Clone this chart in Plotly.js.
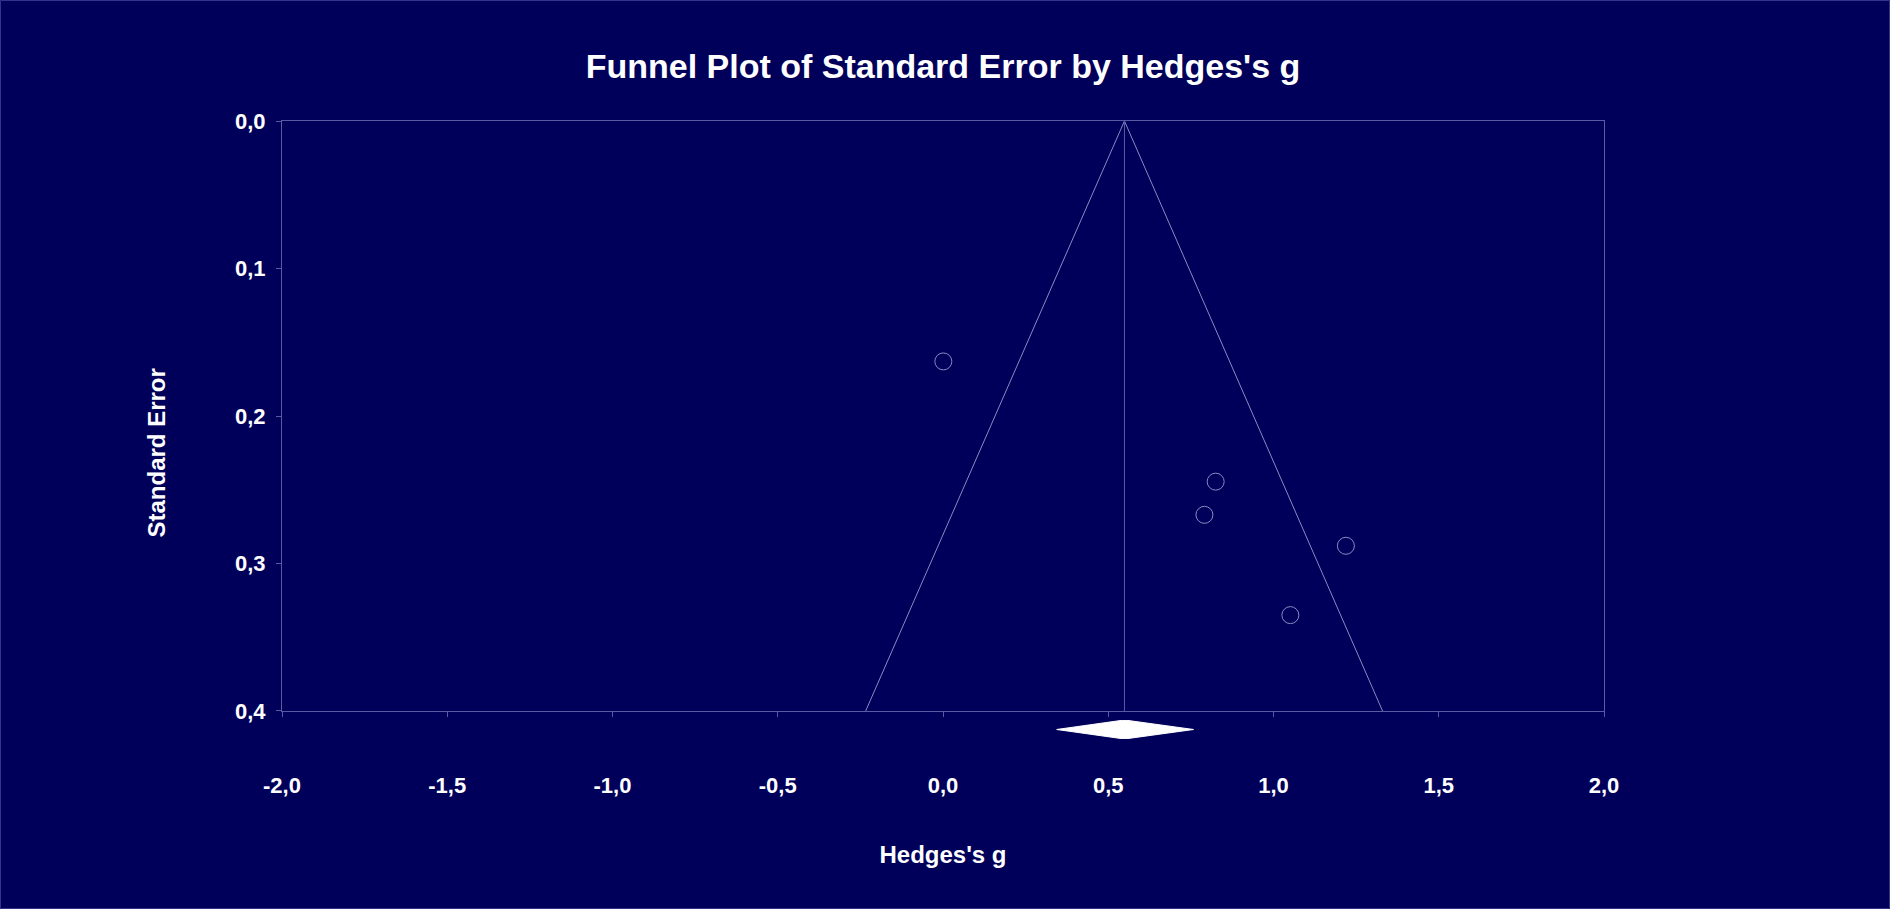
<!DOCTYPE html>
<html>
<head>
<meta charset="utf-8">
<script src="https://cdn.plot.ly/plotly-3.0.1.min.js"></script>
<style>
  html, body { margin: 0; padding: 0; background: #00005a; }
  #chart { width: 1890px; height: 909px; }
</style>
</head>
<body>
<div id="chart"></div>
<script>
// Studies: Hedges's g and standard error
const studyG = [0.001, 0.825, 0.791, 1.219, 1.051];
const studySE = [0.163, 0.2445, 0.267, 0.288, 0.335];

// Summary effect and its confidence interval
const meanG = 0.549;
const ciLow = 0.344;
const ciHigh = 0.758;

// Funnel limits (left bottom, apex, right bottom)
const funnelX = [-0.234, meanG, 1.330];
const funnelY = [0.4, 0.0, 0.4];

const xTicks = [-2.0, -1.5, -1.0, -0.5, 0.0, 0.5, 1.0, 1.5, 2.0];
const yTicks = [0.0, 0.1, 0.2, 0.3, 0.4];

const lineColor = '#5a5aa4';
const funnelColor = '#8a8ac4';
const white = '#ffffff';
const fontFamily = '"Liberation Sans", Arial, sans-serif';

// Comma decimals with a plain hyphen for negatives
const fmt = v => v.toFixed(1).replace('.', ',');

function buildChart() {
    // Funnel sides
    const funnel = {
        x: funnelX,
        y: funnelY,
        type: 'scatter',
        mode: 'lines',
        line: { color: funnelColor, width: 1 },
        hoverinfo: 'skip'
    };

    // Vertical line at the summary effect
    const meanLine = {
        x: [meanG, meanG],
        y: [0, 0.4],
        type: 'scatter',
        mode: 'lines',
        line: { color: lineColor, width: 1 },
        hoverinfo: 'skip'
    };

    const studies = {
        x: studyG,
        y: studySE,
        type: 'scatter',
        mode: 'markers',
        marker: {
            symbol: 'circle-open',
            size: 17,
            color: funnelColor,
            line: { width: 1, color: funnelColor }
        }
    };

    // Summary diamond drawn on a thin strip under the plot
    const diamond = {
        x: [ciLow, meanG, ciHigh, meanG, ciLow],
        y: [0, 1, 0, -1, 0],
        yaxis: 'y2',
        type: 'scatter',
        mode: 'lines',
        fill: 'toself',
        fillcolor: white,
        line: { color: white, width: 1 },
        hoverinfo: 'skip'
    };

    const layout = {
        width: 1890,
        height: 909,
        paper_bgcolor: '#00005a',
        plot_bgcolor: '#00005a',
        showlegend: false,
        margin: { l: 282, r: 286, t: 121, b: 164 },
        font: { family: fontFamily, color: white, size: 22, weight: 'bold' },
        title: {
            text: "Funnel Plot of Standard Error by Hedges's g",
            font: { family: fontFamily, size: 34, color: white, weight: 'bold' },
            x: 0.5,
            xref: 'paper',
            y: 1 - 66 / 909,
            yanchor: 'middle'
        },
        xaxis: {
            range: [-2, 2],
            tickvals: xTicks,
            ticktext: xTicks.map(fmt),
            ticks: 'outside',
            ticklen: 5,
            tickcolor: lineColor,
            ticklabelstandoff: 50,
            showline: true,
            linecolor: lineColor,
            linewidth: 1,
            mirror: true,
            showgrid: false,
            zeroline: false,
            anchor: 'y',
            automargin: true,
            title: {
                text: "Hedges's g",
                font: { size: 24, weight: 'bold' },
                standoff: 48
            }
        },
        yaxis: {
            domain: [0.0545, 1],
            range: [0.4, 0],
            tickvals: yTicks,
            ticktext: yTicks.map(fmt),
            ticks: 'outside',
            ticklen: 5,
            tickcolor: lineColor,
            ticklabelstandoff: 6,
            showline: true,
            linecolor: lineColor,
            linewidth: 1,
            mirror: true,
            showgrid: false,
            zeroline: false
        },
        yaxis2: {
            domain: [0.0096, 0.0401],
            range: [-1, 1],
            visible: false,
            fixedrange: true
        },
        annotations: [{
            text: 'Standard Error',
            textangle: -90,
            xref: 'paper',
            yref: 'paper',
            x: (155.5 - 282) / 1322,
            y: (745 - 453) / 624,
            xanchor: 'center',
            yanchor: 'middle',
            showarrow: false,
            font: { size: 24, weight: 'bold', color: white }
        }],
        shapes: [{
            type: 'rect',
            xref: 'paper',
            yref: 'paper',
            x0: -281.5 / 1322,
            x1: 1607.5 / 1322,
            y0: -163.5 / 624,
            y1: 744.5 / 624,
            line: { color: '#33338a', width: 1 },
            fillcolor: 'rgba(0,0,0,0)'
        }]
    };

    Plotly.newPlot('chart', [funnel, meanLine, studies, diamond], layout, { displayModeBar: false, staticPlot: true });
}

document.addEventListener('DOMContentLoaded', buildChart);
</script>
</body>
</html>
